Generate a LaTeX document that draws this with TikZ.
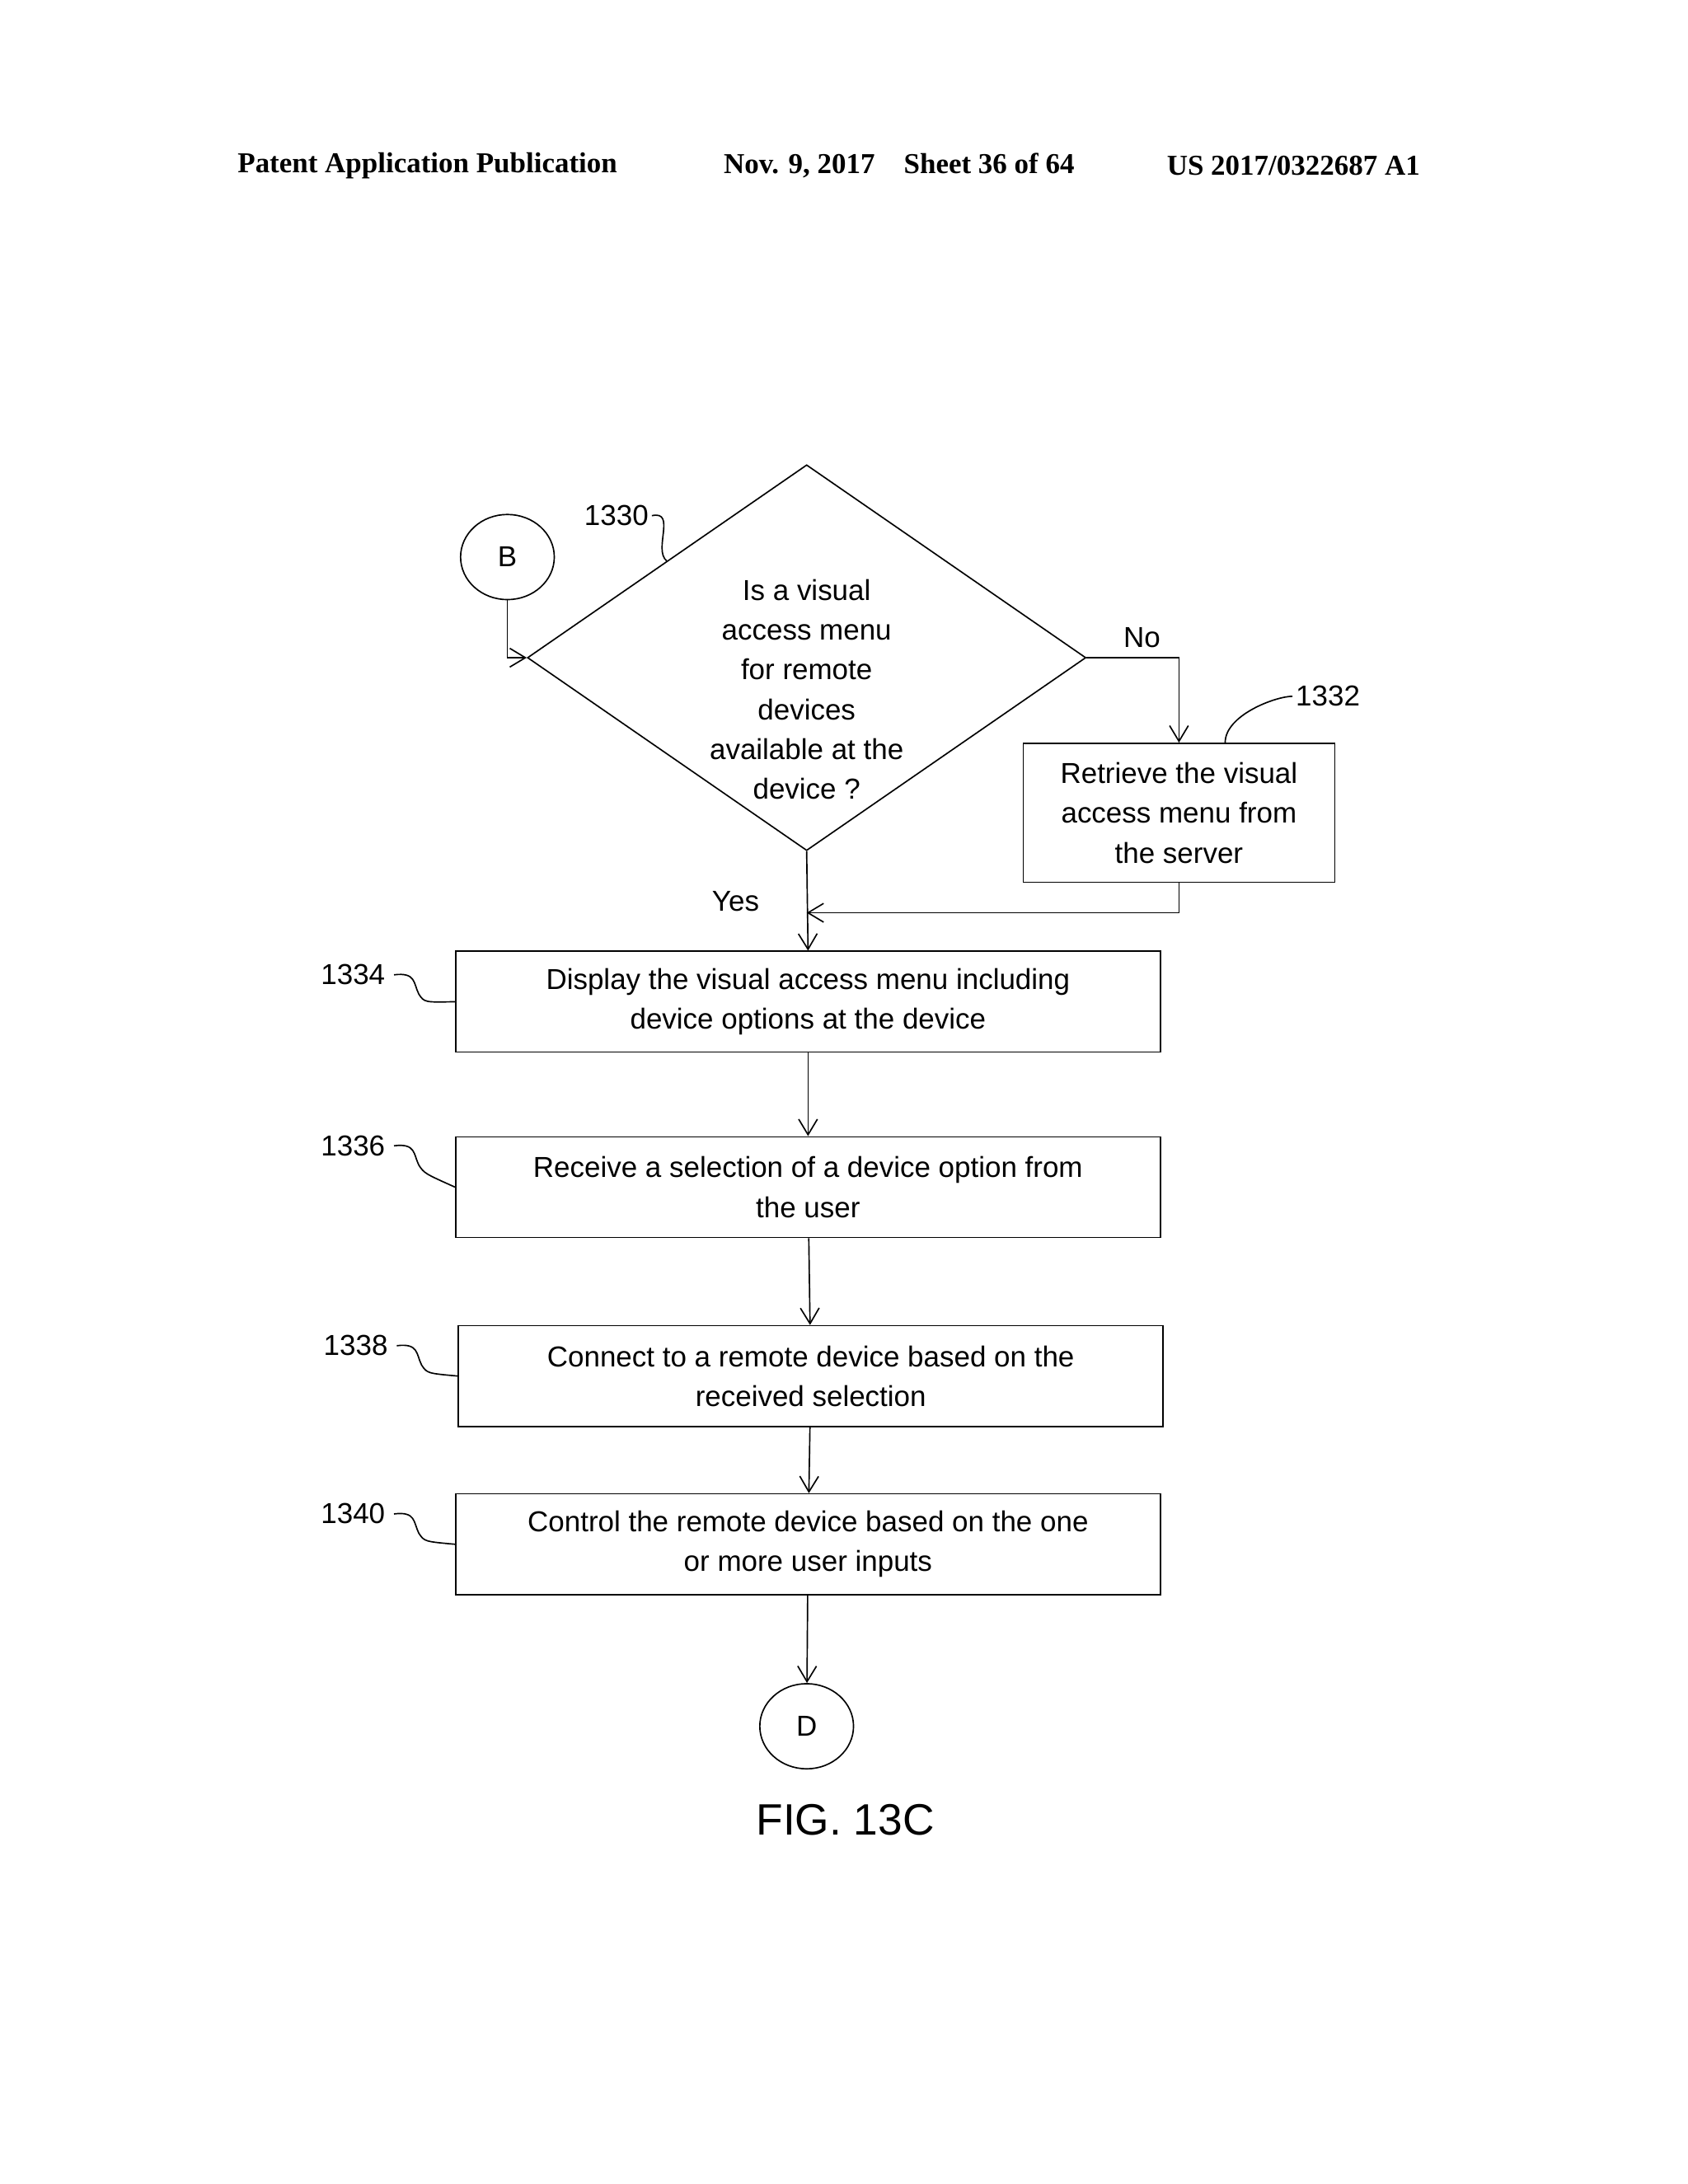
\documentclass[tikz,border=0pt]{standalone}
\usepackage{fontspec}
\setmainfont{Liberation Sans}
\newfontfamily\headfont{Liberation Serif}
\usetikzlibrary{positioning,shapes.geometric,arrows.meta}

\begin{document}
\begin{tikzpicture}[x=0.01765cm,y=-0.01765cm,
font=\fontsize{10.5}{14.5}\selectfont,
>={Straight Barb[length=2mm,width=2.4mm]},
every path/.style={line width=0.5pt},
stepnode/.style={rectangle,draw=black,minimum width=9.02cm,minimum height=1.29cm,align=center,inner sep=0pt},
roundnode/.style={ellipse,draw=black,minimum width=1.2cm,minimum height=1.09cm,inner sep=0pt},
refnum/.style={inner sep=1pt},
headnode/.style={font=\headfont\bfseries\fontsize{10.5}{12}\selectfont,inner sep=0pt},
]
\useasboundingbox (0,0) rectangle (1224,1584);
%Header
\node[headnode] (pub)   at (310,120) {Patent Application Publication};
\node[headnode] (date)  at (652,120) {Nov. 9, 2017\quad Sheet 36 of 64};
\node[headnode] (numb)  at (938,120) {US 2017/0322687 A1};

%Nodes
\node[roundnode] (B) at (368,404) {B};
\node[diamond,draw=black,minimum width=7.15cm,minimum height=4.94cm,inner sep=0pt,text width=2.7cm,align=center] (dec) at (585,477) {};
\node[align=center] (dectext) at (585,500) {Is a visual\\access menu\\for remote\\devices\\available at the\\device ?};
\node[rectangle,draw=black,minimum width=3.99cm,minimum height=1.78cm,align=center,inner sep=0pt] (ret) at (855,589.5) {Retrieve the visual\\access menu from\\the server};
\node[stepnode] (s1334) at (586,726.5) {Display the visual access menu including\\device options at the device};
\node[stepnode] (s1336) at (586,861) {Receive a selection of a device option from\\the user};
\node[stepnode] (s1338) at (588,998) {Connect to a remote device based on the\\received selection};
\node[stepnode] (s1340) at (586,1120) {Control the remote device based on the one\\or more user inputs};
\node[roundnode] (D) at (585,1252) {D};
\node[font=\fontsize{16}{18}\selectfont] (fig) at (613,1320) {FIG. 13C};

%Reference numbers
\node[refnum] (r1330) at (447,374) {1330};
\node[refnum] (r1332) at (963,505) {1332};
\node[refnum] (r1334) at (256,707) {1334};
\node[refnum] (r1336) at (256,831) {1336};
\node[refnum] (r1338) at (258,976) {1338};
\node[refnum] (r1340) at (256,1098) {1340};

\coordinate (merge) at (585,662);

%Lines
\draw[->] (B.south) |- (dec.west);
\draw[->] (dec.east) -| (ret.north) node[pos=0.3,above] {No};
\draw[->] (dec.south) -- (s1334.north) node[pos=0.5,left=14pt] {Yes};
\draw[->] (ret.south) |- (merge);
\draw[->] (s1334) -- (s1336);
\draw[->] (s1336) -- (s1338);
\draw[->] (s1338) -- (s1340);
\draw[->] (s1340) -- (D);

%Leaders
\draw (r1330.east) .. controls +(18,-4) and +(-10,-8) .. (dec.north west);
\draw (ret.north east) ++(-80,0) coordinate (l1332) .. controls +(0,-20) and +(-12,0) .. (r1332.west);
\foreach \n in {1334,1336,1338,1340}
  \draw (r\n.east) ++(4,0) .. controls +(16,-2) and +(-4,-8) .. ++(18,14) .. controls +(4,6) .. (s\n.west);
\end{tikzpicture}
\end{document}
